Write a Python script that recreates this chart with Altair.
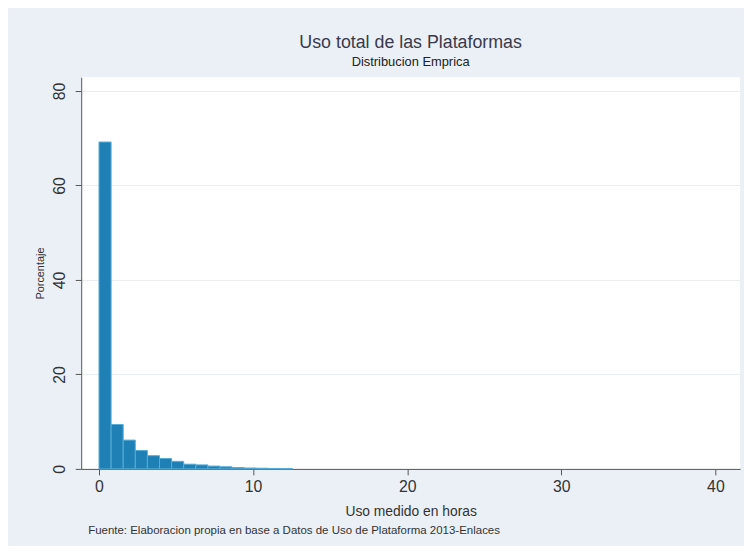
import altair as alt
import pandas as pd

# Histogram bin edges (hours) and percentages
bordes = [0.0, 0.785, 1.57, 2.355, 3.14, 3.925, 4.71, 5.495, 6.28, 7.065, 7.85,
          8.635, 9.42, 10.205, 10.99, 11.775, 12.56]
porcentaje = [69.2, 9.4, 6.1, 3.9, 2.8, 2.2, 1.6, 1.0, 0.85, 0.6, 0.45,
              0.3, 0.2, 0.15, 0.1, 0.05]

x_ticks = [0, 10, 20, 30, 40]
y_ticks = [0, 20, 40, 60, 80]

titulo = "Uso total de las Plataformas"
subtitulo = "Distribucion Emprica"
titulo_x = "Uso medido en horas"
titulo_y = "Porcentaje"
fuente = "Fuente: Elaboracion propia en base a Datos de Uso de Plataforma 2013-Enlaces"

df = pd.DataFrame({
    "inicio": bordes[:-1],
    "fin": bordes[1:],
    "porcentaje": porcentaje,
})

FONT = "Liberation Sans"

bars = alt.Chart(df).mark_bar(
    fill="#1f80b5", stroke="#55acd9", strokeWidth=1
).encode(
    x=alt.X("inicio:Q",
            scale=alt.Scale(domain=[-1.155, 41.6], nice=False, zero=False),
            axis=alt.Axis(values=x_ticks, title=titulo_x, grid=False,
                          labelFontSize=16, labelPadding=4, titleFontSize=14,
                          titlePadding=10, format="d")),
    x2="fin:Q",
    y=alt.Y("porcentaje:Q",
            scale=alt.Scale(domain=[0, 82.93], nice=False),
            axis=alt.Axis(values=y_ticks, title=titulo_y, grid=True,
                          gridColor="#e9eef2", labelAngle=-90,
                          labelAlign="center", labelBaseline="bottom",
                          labelFontSize=16, labelPadding=8,
                          titleFontSize=11, titlePadding=6, format="d")),
    y2=alt.datum(0),
)

note = alt.Chart(pd.DataFrame({"t": [fuente]})).mark_text(
    align="left", baseline="middle", fontSize=11.6, font=FONT, color="#333333"
).encode(
    x=alt.value(7),
    y=alt.value(459),
    text="t:N",
)

chart = alt.layer(bars, note).properties(
    width=666,
    height=396,
    padding={"left": 74, "top": 67, "right": 4, "bottom": 75},
    autosize=alt.AutoSizeParams(type="none"),
    title=alt.TitleParams(
        text=titulo, subtitle=subtitulo, anchor="middle",
        fontSize=18, subtitleFontSize=13, font=FONT, subtitleFont=FONT,
        fontWeight="normal", color="#3a3a4c", subtitleColor="#222222",
        offset=8, subtitlePadding=4,
    ),
).configure(
    background="#eaf0f6",
).configure_view(
    fill="white", stroke=None,
).configure_axis(
    domainColor="#555555", tickColor="#555555", labelColor="#333333",
    titleColor="#333333", labelFont=FONT, titleFont=FONT,
    titleFontWeight="normal", tickSize=6, domainWidth=1,
)

chart.save("out.html", embed_options={"renderer": "svg", "actions": False})
